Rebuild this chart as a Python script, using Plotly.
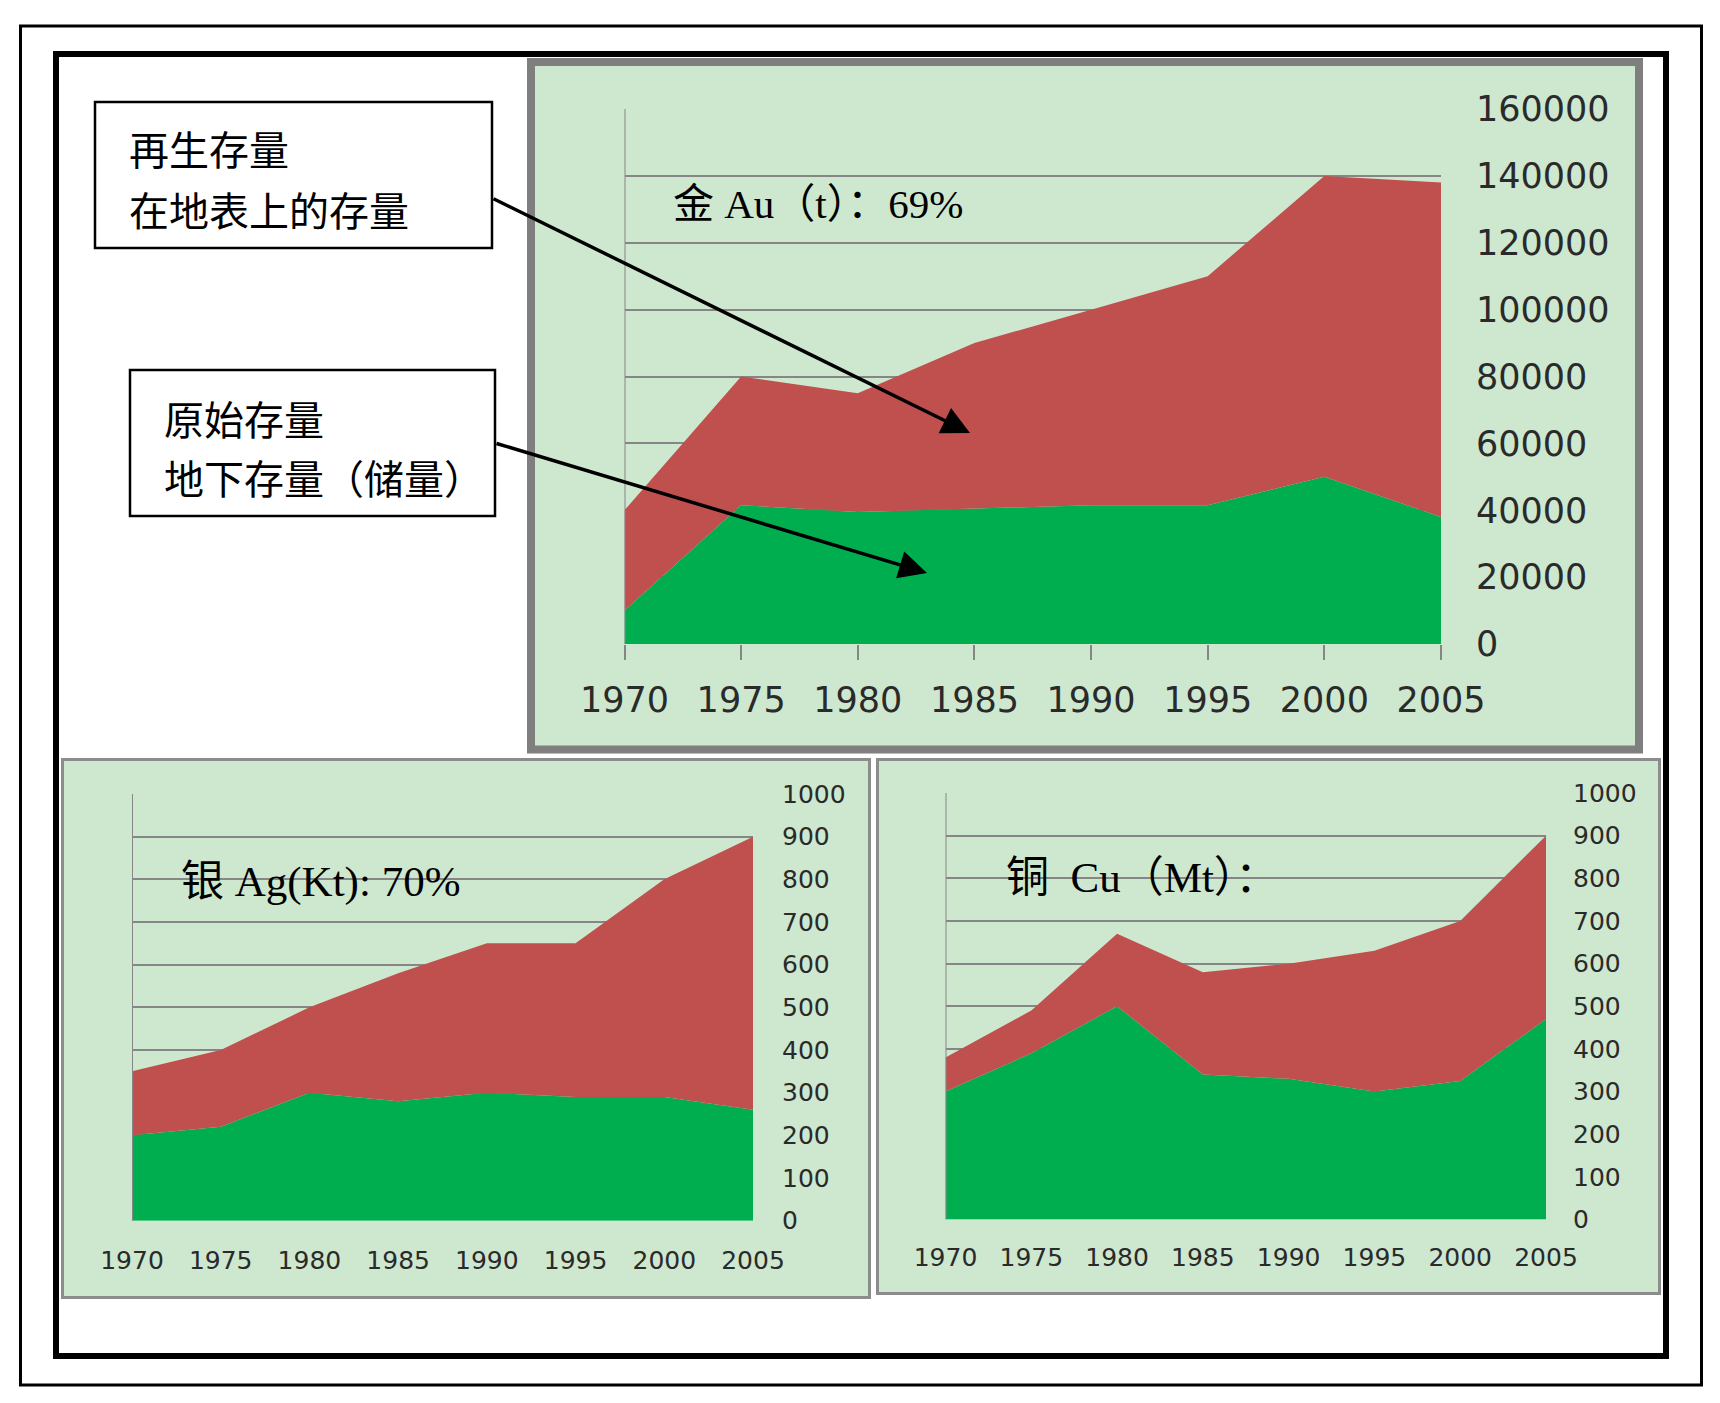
import plotly.graph_objects as go

# figure size leaves room for the page's default 8px body margin
OFF = 8
W, H = 1720 - 2 * OFF, 1403 - 2 * OFF

# ---------------- data ----------------
years = [1970, 1975, 1980, 1985, 1990, 1995, 2000, 2005]
year_labels = [str(y) for y in years]

gold_primary = [10000, 41500, 39500, 40500, 41500, 41500, 50000, 38000]
gold_total = [40000, 80000, 75000, 90000, 100000, 110000, 140000, 138000]

silver_primary = [200, 220, 300, 280, 300, 290, 290, 260]
silver_total = [350, 400, 500, 580, 650, 650, 800, 900]

copper_primary = [300, 390, 500, 340, 330, 300, 325, 470]
copper_total = [380, 490, 670, 580, 600, 630, 700, 900]

gold_ticks = [0, 20000, 40000, 60000, 80000, 100000, 120000, 140000, 160000]
small_ticks = [0, 100, 200, 300, 400, 500, 600, 700, 800, 900, 1000]

gold_title = "金 Au（t）：69%"
silver_title = "银 Ag(Kt): 70%"
copper_title = "铜  Cu（Mt）："
box1_lines = ["再生存量", "在地表上的存量"]
box2_lines = ["原始存量", "地下存量（储量）"]

# ---------------- style ----------------
GREEN = "#00AE50"
RED = "#C0504D"
PANEL = "#CEE7CF"
GRID = "#868686"
TICKC = "#2a2a2a"
TICKFONT = "DejaVu Sans"
SERIF = "Liberation Serif, Noto Sans CJK SC"
CJK = "Noto Sans CJK SC"


def px(x):
    return (x - OFF) / W


def py(y):
    return 1 - (y - OFF) / H


fig = go.Figure()

panels = [
    dict(ax="", prim=gold_primary, tot=gold_total,
         xdom=[px(624.5), px(1441)], ydom=[py(644), py(109)],
         rng=[0, 160000], tv=gold_ticks, font=35, xstand=10, ystand=34,
         ticks="outside"),
    dict(ax="2", prim=silver_primary, tot=silver_total,
         xdom=[px(132), px(753)], ydom=[py(1220.7), py(794)],
         rng=[0, 1000], tv=small_ticks, font=25, xstand=22, ystand=28,
         ticks=""),
    dict(ax="3", prim=copper_primary, tot=copper_total,
         xdom=[px(945.5), px(1546)], ydom=[py(1219.6), py(793)],
         rng=[0, 1000], tv=small_ticks, font=25, xstand=20, ystand=26,
         ticks=""),
]

shapes = []
# outer frames
shapes.append(dict(type="rect", xref="paper", yref="paper", x0=px(20.5), x1=px(1701.5),
                   y0=py(26), y1=py(1385), line=dict(color="black", width=3), layer="below"))
shapes.append(dict(type="rect", xref="paper", yref="paper", x0=px(56), x1=px(1666),
                   y0=py(54), y1=py(1356), line=dict(color="black", width=6), layer="below"))
# panels
shapes.append(dict(type="rect", xref="paper", yref="paper", x0=px(531), x1=px(1639),
                   y0=py(62), y1=py(749.5), fillcolor=PANEL,
                   line=dict(color="#7f7f7f", width=8), layer="below"))
shapes.append(dict(type="rect", xref="paper", yref="paper", x0=px(62.5), x1=px(869.5),
                   y0=py(759.5), y1=py(1297.5), fillcolor=PANEL,
                   line=dict(color="#8c8c8c", width=3), layer="below"))
shapes.append(dict(type="rect", xref="paper", yref="paper", x0=px(877.5), x1=px(1659.5),
                   y0=py(759.5), y1=py(1293.5), fillcolor=PANEL,
                   line=dict(color="#8c8c8c", width=3), layer="below"))
# label boxes
shapes.append(dict(type="rect", xref="paper", yref="paper", x0=px(95), x1=px(492),
                   y0=py(102), y1=py(248), fillcolor="white",
                   line=dict(color="black", width=2.5)))
shapes.append(dict(type="rect", xref="paper", yref="paper", x0=px(130), x1=px(495),
                   y0=py(370), y1=py(516), fillcolor="white",
                   line=dict(color="black", width=2.5)))

layout_axes = {}
for p in panels:
    a = p["ax"]
    xa, ya = "x" + a, "y" + a
    fig.add_trace(go.Scatter(x=years, y=p["prim"], mode="lines", fill="tozeroy",
                             fillcolor=GREEN, line=dict(width=0, color=GREEN),
                             hoverinfo="skip", xaxis=xa, yaxis=ya))
    fig.add_trace(go.Scatter(x=years, y=p["tot"], mode="lines", fill="tonexty",
                             fillcolor=RED, line=dict(width=0, color=RED),
                             hoverinfo="skip", xaxis=xa, yaxis=ya))
    layout_axes["xaxis" + a] = dict(
        domain=p["xdom"], range=[years[0], years[-1]], tickvals=years, ticktext=year_labels,
        showgrid=False, zeroline=False, showline=False, anchor=ya, automargin=False,
        ticks=p["ticks"], ticklen=15, tickwidth=2, tickcolor=GRID,
        tickfont=dict(family=TICKFONT, size=p["font"], color=TICKC),
        ticklabelstandoff=p["xstand"], fixedrange=True)
    layout_axes["yaxis" + a] = dict(
        domain=p["ydom"], range=p["rng"], tickvals=p["tv"], tickformat="d",
        side="right", showgrid=True, gridcolor=GRID, gridwidth=2, automargin=False,
        zeroline=False, showline=False, anchor=xa, ticks="",
        tickfont=dict(family=TICKFONT, size=p["font"], color=TICKC),
        ticklabelstandoff=p["ystand"], fixedrange=True)
    # left axis line (vertical axis crossing at first category)
    shapes.append(dict(type="line", xref=xa, yref=ya + " domain", x0=years[0], x1=years[0],
                       y0=0, y1=1, line=dict(color=GRID, width=2)))

annotations = []
# chart titles
annotations.append(dict(text=gold_title, x=px(671), y=py(204), xref="paper", yref="paper",
                        xanchor="left", yanchor="middle", showarrow=False,
                        font=dict(family=SERIF, size=41, color="black")))
annotations.append(dict(text=silver_title, x=px(179), y=py(882), xref="paper", yref="paper",
                        xanchor="left", yanchor="middle", showarrow=False,
                        font=dict(family=SERIF, size=43, color="black")))
annotations.append(dict(text=copper_title, x=px(1004), y=py(877), xref="paper", yref="paper",
                        xanchor="left", yanchor="middle", showarrow=False,
                        font=dict(family=SERIF, size=43, color="black")))
# box texts
for txt, xx, yy in [(box1_lines[0], 127, 148), (box1_lines[1], 127, 209),
                    (box2_lines[0], 162, 418), (box2_lines[1], 162, 477)]:
    annotations.append(dict(text=txt, x=px(xx), y=py(yy), xref="paper", yref="paper",
                            xanchor="left", yanchor="middle", showarrow=False,
                            font=dict(family=CJK, size=40, color="black")))
# arrows
annotations.append(dict(text="", x=px(970), y=py(433), xref="paper", yref="paper",
                        ax=492 - 970, ay=198 - 433, showarrow=True, arrowhead=2,
                        arrowsize=1.6, arrowwidth=3.5, arrowcolor="black", standoff=0))
annotations.append(dict(text="", x=px(927), y=py(573), xref="paper", yref="paper",
                        ax=495 - 927, ay=443 - 573, showarrow=True, arrowhead=2,
                        arrowsize=1.6, arrowwidth=3.5, arrowcolor="black", standoff=0))

fig.update_layout(template="none", width=W, height=H,
                  margin=dict(l=0, r=0, t=0, b=0, pad=0),
                  autosize=False, paper_bgcolor="white", plot_bgcolor="rgba(0,0,0,0)",
                  showlegend=False, shapes=shapes, annotations=annotations, **layout_axes)

fig.write_html("out.html", config={"displayModeBar": False})
